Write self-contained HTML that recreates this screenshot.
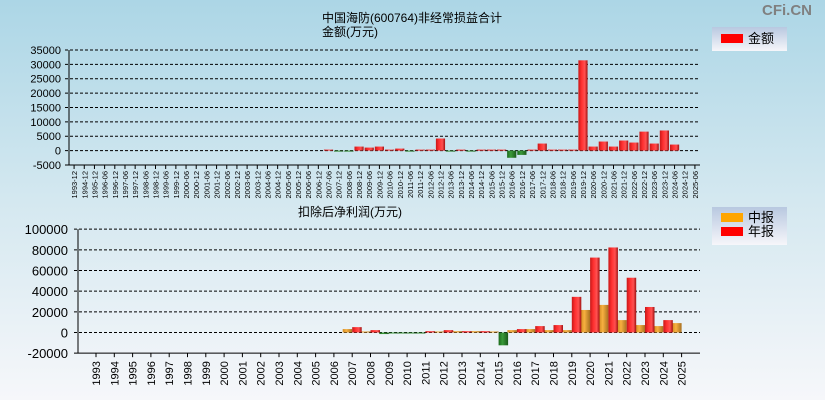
<!DOCTYPE html>
<html><head><meta charset="utf-8"><style>
html,body{margin:0;padding:0}
body{width:825px;height:400px;overflow:hidden;background:linear-gradient(#acd6e6 0%,#d4e8f0 50%,#f6f7fa 100%);font-family:"Liberation Sans","Noto Sans CJK SC",sans-serif}
svg{position:absolute;left:0;top:0}
</style></head><body>
<svg id="c" width="825" height="400" font-family="Liberation Sans, Noto Sans CJK SC, sans-serif">
<defs>
<linearGradient id="gr" x1="0" x2="1"><stop offset="0" stop-color="#c81818"/><stop offset="0.35" stop-color="#ff3030"/><stop offset="0.7" stop-color="#ff5050"/><stop offset="1" stop-color="#a01010"/></linearGradient>
<linearGradient id="go" x1="0" x2="1"><stop offset="0" stop-color="#d08a20"/><stop offset="0.4" stop-color="#f8b040"/><stop offset="1" stop-color="#a87020"/></linearGradient>
<linearGradient id="gg" x1="0" x2="1"><stop offset="0" stop-color="#1a6a1a"/><stop offset="0.4" stop-color="#3a9a3a"/><stop offset="1" stop-color="#1a5a1a"/></linearGradient>
<linearGradient id="lg" x1="0" y1="0" x2="0" y2="1"><stop offset="0" stop-color="#b8c8e0"/><stop offset="1" stop-color="#f6f6fa"/></linearGradient>
</defs>
<text x="812" y="15" font-size="15" fill="#808080" text-anchor="end" font-weight="bold">CFi.CN</text>
<text x="412" y="22" font-size="12" text-anchor="middle">中国海防(600764)非经常损益合计</text>
<text x="350" y="36" font-size="12" text-anchor="middle">金额(万元)</text>
<text x="350" y="216" font-size="12" text-anchor="middle">扣除后净利润(万元)</text>
<g>
<rect x="712" y="27" width="75" height="24" fill="url(#lg)"/>
<rect x="721" y="34" width="22" height="9" fill="#ff0000"/>
<text x="748" y="43" font-size="13">金额</text>
</g>
<g>
<rect x="712" y="207" width="75" height="38" fill="url(#lg)"/>
<rect x="721" y="213" width="22" height="9" fill="#ffa500"/>
<text x="748" y="222" font-size="13">中报</text>
<rect x="721" y="227" width="22" height="9" fill="#ff0000"/>
<text x="748" y="236" font-size="13">年报</text>
</g>
<g id="top"></g><g id="bot"></g>
</svg>
<script>
const topCats=["1993-12","1994-12","1995-12"];
for(let y=1996;y<=2024;y++){topCats.push(y+"-06");topCats.push(y+"-12");}
topCats.push("2025-06");
const topValues=[350,-300,-300,1400,1050,1400,350,700,-200,350,350,4200,-200,350,-200,350,350,350,-2500,-1500,350,2450,350,350,350,31400,1400,3150,1400,3500,2800,6600,2450,7000,2100];
const topFirstIndex=25;
const topTicks=[-5000,0,5000,10000,15000,20000,25000,30000,35000];
const botYears=[];for(let y=1993;y<=2025;y++)botYears.push(String(y));
const interimYears=["2007","2008","2009","2010","2011","2012","2013","2014","2015","2016","2017","2018","2019","2020","2021","2022","2023","2024","2025"];
const interimValues=[3300,1000,-1500,-500,-500,1000,1300,1300,1000,2300,3300,2300,2300,21800,26700,12000,7200,6200,9100];
const annualYears=["2007","2008","2009","2010","2011","2012","2013","2014","2015","2016","2017","2018","2019","2020","2021","2022","2023","2024"];
const annualValues=[5200,2300,-500,-500,1300,2300,1300,1300,-12400,3300,6200,7200,34500,72500,82300,53000,24700,12000];
const botTicks=[-20000,0,20000,40000,60000,80000,100000];
const NS="http://www.w3.org/2000/svg";
function mk(p,t,a){const e=document.createElementNS(NS,t);for(const k in a)e.setAttribute(k,a[k]);p.appendChild(e);return e;}
// top chart
const T=document.getElementById('top');
const tx0=69,tx1=700,tstep=(tx1-tx0)/topCats.length;
const ty=v=>150.6-(v)*115/40000;
topTicks.forEach(v=>{
 const l=mk(T,'line',{x1:tx0-4,x2:tx1,y1:ty(v),y2:ty(v),stroke:'#000','stroke-dasharray':v===-5000?'none':'3,2'});
 
 
 const t=mk(T,'text',{x:tx0-8,y:ty(v)+4,'font-size':11,'text-anchor':'end'});t.textContent=v;
 
 
});
mk(T,'line',{x1:tx0,x2:tx0,y1:ty(35000),y2:ty(-5000),stroke:'#000'});
topCats.forEach((c,i)=>{
 const x=tx0+(i+0.5)*tstep;
 mk(T,'line',{x1:x,x2:x,y1:ty(-5000),y2:ty(-5000)+4,stroke:'#000'});
 const t=mk(T,'text',{x:0,y:0,'font-size':7.5,transform:`translate(${x+3},${ty(-5000)+6}) rotate(-90)`,'text-anchor':'end'});t.textContent=c;
 
 
});
topValues.forEach((v,k)=>{
 const i=topFirstIndex+k,x=tx0+i*tstep;
 const y0=ty(0),y1=ty(v);
 const r=mk(T,'rect',{x:x+0.5,y:Math.min(y0,y1),width:tstep-1,height:Math.max(1,Math.abs(y1-y0)),fill:v>=0?'url(#gr)':'url(#gg)'});
 
 
});
// bottom chart
const B=document.getElementById('bot');
const bx0=78,bx1=700,bc0=96,bstep=18.3;
const by=v=>332.5-v*124/120000;
botTicks.forEach(v=>{
 const l=mk(B,'line',{x1:bx0-4,x2:bx1,y1:by(v),y2:by(v),stroke:'#000','stroke-dasharray':v===-20000?'none':'3,2'});
 
 
 const t=mk(B,'text',{x:bx0-10,y:by(v)+5,'font-size':13,'text-anchor':'end'});t.textContent=v;
 
 
});
mk(B,'line',{x1:bx0,x2:bx0,y1:by(100000),y2:by(-20000),stroke:'#000'});
botYears.forEach((c,i)=>{
 const x=bc0+i*bstep;
 mk(B,'line',{x1:x,x2:x,y1:by(-20000),y2:by(-20000)+4,stroke:'#000'});
 const t=mk(B,'text',{x:0,y:0,'font-size':11,transform:`translate(${x+4},${by(-20000)+8}) rotate(-90)`,'text-anchor':'end'});t.textContent=c;
 
 
});
function barB(year,v,off,fill,name){
 const i=botYears.indexOf(year),x=bc0+i*bstep+off;
 const y0=by(0),y1=by(v);
 const r=mk(B,'rect',{x:x,y:Math.min(y0,y1),width:9.5,height:Math.max(1,Math.abs(y1-y0)),fill:v>=0?fill:'url(#gg)'});
 
 
}
interimYears.forEach((y,k)=>barB(y,interimValues[k],-9.5,'url(#go)','interim-bar'));
annualYears.forEach((y,k)=>barB(y,annualValues[k],0,'url(#gr)','annual-bar'));
</script>
</body></html>
